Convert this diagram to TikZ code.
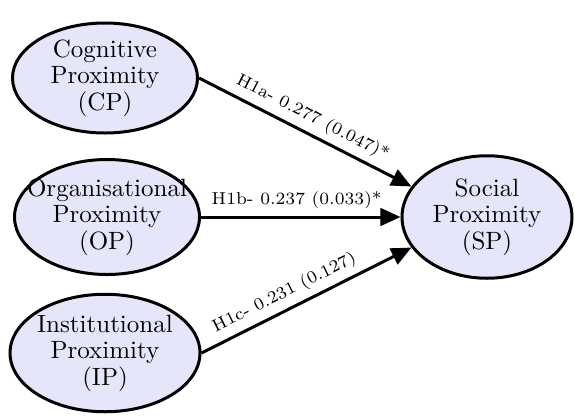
\documentclass[tikz,border=0pt]{standalone}
\usetikzlibrary{arrows.meta,shapes.geometric}
\definecolor{latentfill}{RGB}{230,230,250}
\begin{document}
\begin{tikzpicture}[x=0.4pt,y=-0.4pt,
    latent/.style={ellipse,draw,line width=1.2pt,fill=latentfill,inner xsep=-6pt,inner ysep=-3pt,
      align=center,font=\fontsize{10}{10.6}\selectfont},
    path/.style={line width=1.2pt,-{Triangle[length=8pt,width=7pt]}},
    coef/.style={font=\fontsize{6.9}{8}\selectfont,sloped,above,inner sep=2.5pt}]
      \useasboundingbox (0,0) rectangle (575,415);
      \draw
        (105,78) node[latent,minimum width=74pt,minimum height=44pt] (cp){Cognitive\\Proximity\\(CP)}
        (107,217) node[latent,minimum width=74pt,minimum height=46pt] (op){Organisational\\Proximity\\(OP)}
        (105,353) node[latent,minimum width=76pt,minimum height=47pt] (ip){Institutional\\Proximity\\(IP)}
        (487,217) node[latent,minimum width=68pt,minimum height=49pt] (sp){Social\\Proximity\\(SP)};
      \begin{scope}[path]
        \draw (cp.east) to node[coef,pos=0.5] {H1a- 0.277 (0.047)*} (sp.158);
        \draw (op.east) to node[coef,pos=0.48] {H1b- 0.237 (0.033)*} (sp.west);
        \draw (ip.east) to node[coef,pos=0.43] {H1c- 0.231 (0.127)} (sp.202);
      \end{scope}
    \end{tikzpicture}
\end{document}
